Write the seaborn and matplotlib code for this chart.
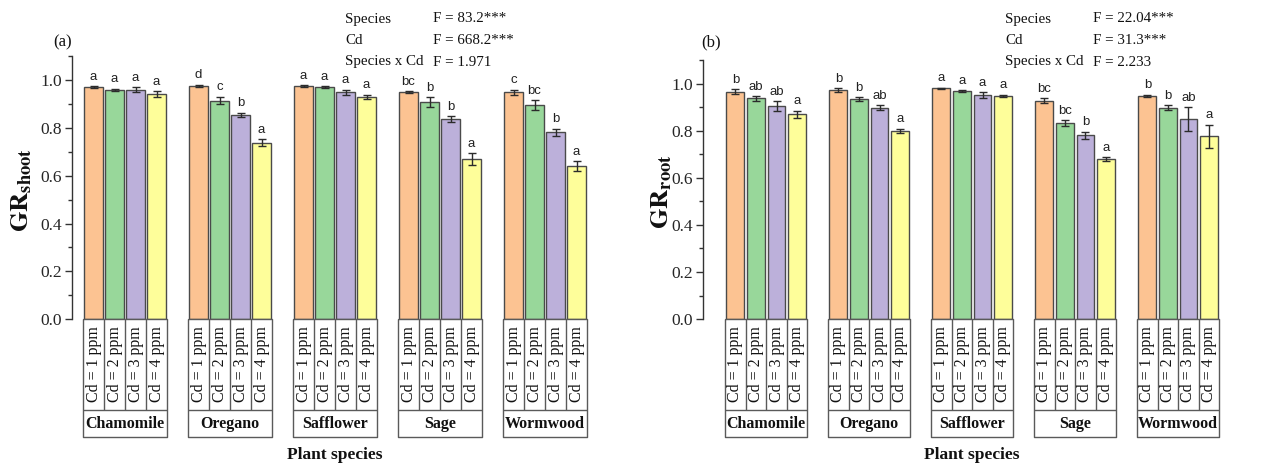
import numpy as np
import pandas as pd
import matplotlib
matplotlib.use("Agg")
import matplotlib.pyplot as plt
import seaborn as sns
from matplotlib.transforms import blended_transform_factory
from matplotlib.ticker import MultipleLocator, FormatStrFormatter

# ---------------- data ----------------
species = ["Chamomile", "Oregano", "Safflower", "Sage", "Wormwood"]
cd_levels = ["Cd = 1 ppm", "Cd = 2 ppm", "Cd = 3 ppm", "Cd = 4 ppm"]

# germination rate of shoots (rows: species, columns: Cd level)
shoot_mean = [
    [0.971, 0.960, 0.960, 0.941],
    [0.977, 0.915, 0.855, 0.739],
    [0.976, 0.970, 0.950, 0.931],
    [0.950, 0.908, 0.838, 0.669],
    [0.950, 0.897, 0.782, 0.641],
]
shoot_err = [
    [0.005, 0.005, 0.010, 0.012],
    [0.004, 0.016, 0.010, 0.015],
    [0.003, 0.004, 0.010, 0.008],
    [0.003, 0.020, 0.012, 0.025],
    [0.010, 0.020, 0.015, 0.020],
]
shoot_letters = [
    ["a", "a", "a", "a"],
    ["d", "c", "b", "a"],
    ["a", "a", "a", "a"],
    ["bc", "b", "b", "a"],
    ["c", "bc", "b", "a"],
]
shoot_stats = [("Species", "F = 83.2***"), ("Cd", "F = 668.2***"),
               ("Species x Cd", "F = 1.971")]

# germination rate of roots
root_mean = [
    [0.967, 0.939, 0.906, 0.871],
    [0.974, 0.935, 0.899, 0.800],
    [0.982, 0.970, 0.953, 0.949],
    [0.929, 0.833, 0.782, 0.680],
    [0.950, 0.899, 0.851, 0.777],
]
root_err = [
    [0.010, 0.010, 0.020, 0.015],
    [0.008, 0.008, 0.010, 0.010],
    [0.003, 0.004, 0.012, 0.005],
    [0.010, 0.012, 0.015, 0.008],
    [0.005, 0.010, 0.050, 0.050],
]
root_letters = [
    ["b", "ab", "ab", "a"],
    ["b", "b", "ab", "a"],
    ["a", "a", "a", "a"],
    ["bc", "bc", "b", "a"],
    ["b", "b", "ab", "a"],
]
root_stats = [("Species", "F = 22.04***"), ("Cd", "F = 31.3***"),
              ("Species x Cd", "F = 2.233")]

bar_colors = ["#FCC392", "#98D79A", "#BCB0DA", "#FEFE9A"]

# ---------------- style ----------------
sns.set_theme(style="ticks")
plt.rcParams["font.family"] = ["Liberation Serif", "DejaVu Serif"]
plt.rcParams["mathtext.fontset"] = "stix"

SERIF = ["Liberation Serif", "DejaVu Serif"]
SANS = ["Liberation Sans", "DejaVu Sans"]
EDGE = "#4a4a4a"
LINE = "#5a5a5a"

W, H = 1281, 465
fig = plt.figure(figsize=(W / 100, H / 100), dpi=100)


def to_frame(means):
    rows = []
    for s, vals in zip(species, means):
        for c, v in zip(cd_levels, vals):
            rows.append({"species": s, "cd": c, "value": v})
    return pd.DataFrame(rows)


def draw_panel(rect, xlim, means, errs, letters, ylab, tag, tag_xy,
               stats, stats_x, ylab_xy):
    ax = fig.add_axes(rect)
    df = to_frame(means)
    sns.barplot(data=df, x="species", y="value", hue="cd",
                order=species, hue_order=cd_levels, palette=bar_colors,
                width=0.8, gap=0.14, errorbar=None, edgecolor=EDGE,
                linewidth=1.0, saturation=1, legend=False, ax=ax)

    # error bars and significance letters on top of each bar
    bar_groups = list(ax.containers)
    for j, cont in enumerate(bar_groups):
        for g, bar in enumerate(cont.patches):
            xc = bar.get_x() + bar.get_width() / 2
            h = bar.get_height()
            e = errs[g][j]
            ax.errorbar(xc, h, yerr=e, fmt="none", ecolor="#2b2b2b",
                        elinewidth=1.0, capsize=3.2, capthick=1.0, zorder=3)
            ax.annotate(letters[g][j], (xc, h + e), xytext=(0, 2.5),
                        textcoords="offset points", ha="center", va="bottom",
                        fontsize=9.5, family=SANS, color="#222222")

    ax.set_xlim(*xlim)
    ax.set_ylim(0, 1.1)
    ax.set_xticks([])
    ax.set_xlabel("")
    ax.set_ylabel("")
    ax.yaxis.set_major_locator(MultipleLocator(0.2))
    ax.yaxis.set_minor_locator(MultipleLocator(0.1))
    ax.yaxis.set_major_formatter(FormatStrFormatter("%.1f"))
    ax.set_yticks(np.arange(0, 1.01, 0.2))
    ax.tick_params(axis="y", which="major", direction="out", length=5,
                   width=1, color="#333333", labelsize=12.5, pad=2)
    ax.tick_params(axis="y", which="minor", direction="out", length=3,
                   width=1, color="#333333")
    for lab in ax.get_yticklabels():
        lab.set_family(SERIF)
    for side in ("top", "right", "bottom"):
        ax.spines[side].set_visible(False)
    ax.spines["left"].set_color("#333333")
    ax.spines["left"].set_linewidth(1.0)

    # category table beneath the bars
    ax_h_px = ax.get_position().height * H
    r1 = -91 / ax_h_px
    r2 = -118 / ax_h_px
    tr = blended_transform_factory(ax.transData, ax.transAxes)
    kw = dict(transform=tr, color=LINE, lw=1.0, clip_on=False,
              solid_capstyle="butt")
    for g, name in enumerate(species):
        left, right = g - 0.4, g + 0.4
        ax.plot([left, right, right, left, left], [0, 0, r2, r2, 0], **kw)
        ax.plot([left, right], [r1, r1], **kw)
        for j in range(1, 4):
            xx = left + 0.2 * j
            ax.plot([xx, xx], [0, r1], **kw)
        for j, lab in enumerate(cd_levels):
            ax.text(left + 0.1 + 0.2 * j, r1 / 2, lab, rotation=90,
                    ha="center", va="center", fontsize=11.5, family=SERIF,
                    transform=tr, color="#111111")
        ax.text(g, (r1 + r2) / 2, name, ha="center", va="center",
                fontsize=11.5, fontweight="bold", family=SERIF,
                transform=tr, color="#111111")
    ax.text(2, -136 / ax_h_px, "Plant species", ha="center", va="center",
            fontsize=12.5, fontweight="bold", family=SERIF, transform=tr,
            color="#111111")

    # axis title, panel tag and ANOVA summary
    fig.text(ylab_xy[0] / W, 1 - ylab_xy[1] / H, ylab, rotation=90,
             ha="center", va="center", fontsize=19, color="#111111")
    fig.text(tag_xy[0] / W, 1 - tag_xy[1] / H, tag, ha="center",
             va="center", fontsize=12, family=SERIF, color="#111111")
    for k, (name, fval) in enumerate(stats):
        yy = 1 - (19 + 21.5 * k) / H
        fig.text(stats_x[0] / W, yy, name, ha="left", va="center",
                 fontsize=10.8, family=SERIF, color="#111111")
        fig.text(stats_x[1] / W, yy, fval, ha="left", va="center",
                 fontsize=10.8, family=SERIF, color="#111111")
    return ax


draw_panel([72 / W, 146 / H, 525.5 / W, 262.6 / H], (-0.505, 4.5),
           shoot_mean, shoot_err, shoot_letters,
           r"$\mathbf{GR_{shoot}}$", "(a)", (63, 42), shoot_stats,
           (345, 433), (22, 190))
draw_panel([703 / W, 146 / H, 538 / W, 258.5 / H], (-0.614, 4.61),
           root_mean, root_err, root_letters,
           r"$\mathbf{GR_{root}}$", "(b)", (711, 42), root_stats,
           (1005, 1093), (662, 192))

fig.savefig("out.png", dpi=100)
